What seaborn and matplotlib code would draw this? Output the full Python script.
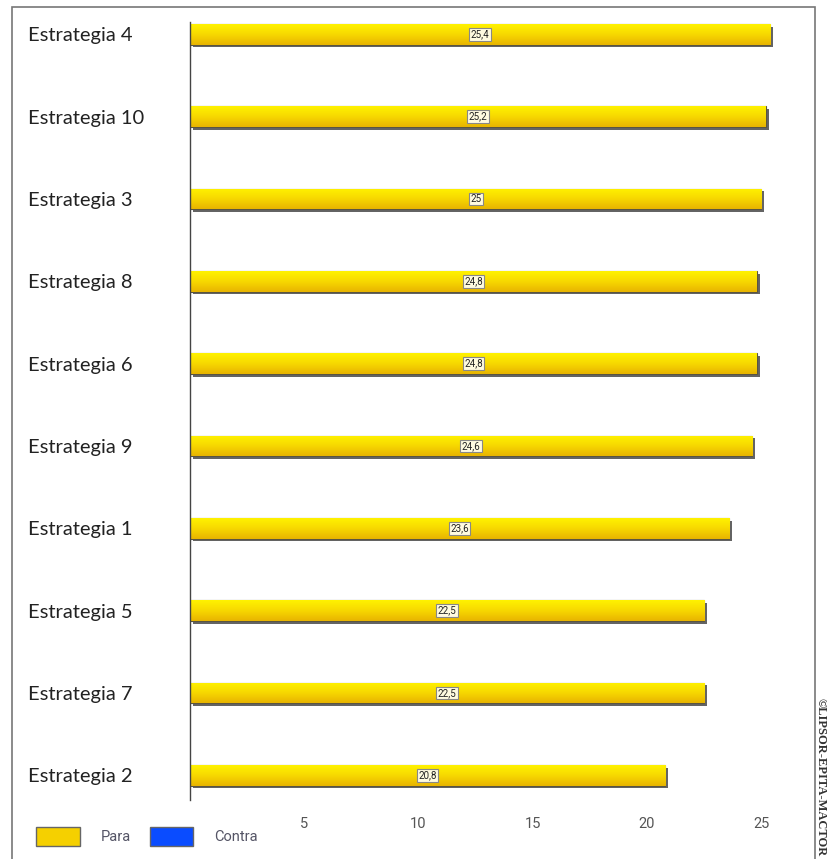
import numpy as np
import pandas as pd
import seaborn as sns
import matplotlib.pyplot as plt
import matplotlib.patheffects as pe
from matplotlib.patches import Patch, Rectangle

# data (top to bottom)
strategies = ["Estrategia 4", "Estrategia 10", "Estrategia 3", "Estrategia 8", "Estrategia 6",
              "Estrategia 9", "Estrategia 1", "Estrategia 5", "Estrategia 7", "Estrategia 2"]
para = [25.4, 25.2, 25.0, 24.8, 24.8, 24.6, 23.6, 22.5, 22.5, 20.8]
series = ["Para", "Contra"]
xticks = [5, 10, 15, 20, 25]

df = pd.DataFrame({"Estrategia": strategies, "Para": para})

sns.set_style("white")
plt.rcParams["font.family"] = ["Lato", "DejaVu Sans"]
narrow = ["Liberation Sans Narrow", "Roboto", "DejaVu Sans"]

fig = plt.figure(figsize=(8.27, 8.59), dpi=100)
ax = fig.add_axes([190 / 827, 1 - 800 / 859, 617 / 827, (800 - 22) / 859])

sns.barplot(data=df, y="Estrategia", x="Para", orient="h", width=0.25,
            color="#f5d000", edgecolor="#5a5540", linewidth=0.8, ax=ax, zorder=2)

# gradient fill + shadow on each bar
grad = np.linspace(0, 1, 64).reshape(-1, 1)
cmap = sns.blend_palette(["#fff200", "#f7d800", "#e8b400"], as_cmap=True)
for p in ax.patches:
    p.set_path_effects([pe.SimplePatchShadow(offset=(2, -2), shadow_rgbFace="#222222", alpha=0.7),
                        pe.Normal()])
    bb = p.get_bbox()
    im = ax.imshow(grad, cmap=cmap, aspect="auto", zorder=2.5,
                   extent=(bb.x0, bb.x1, bb.y1, bb.y0))
    im.set_clip_path(p)

# value boxes in the middle of each bar
for i, v in enumerate(para):
    txt = f"{v:g}".replace(".", ",")
    ax.text(v / 2, i, txt, ha="center", va="center", fontsize=7, color="#222222",
            family=narrow, zorder=4,
            bbox=dict(boxstyle="square,pad=0.15", facecolor="#fffbe0", edgecolor="#888888", linewidth=0.8))

ax.set_xlim(0, 27)
ax.set_ylim(9.3, -0.15)
ax.set_xticks(xticks)
ax.set_xticklabels([str(t) for t in xticks], fontsize=10.5, color="#555555", family=narrow)
ax.tick_params(axis="x", length=0, pad=12)
ax.tick_params(axis="y", length=0, pad=117)
for lab in ax.get_yticklabels():
    lab.set_horizontalalignment("left")
    lab.set_fontsize(14.5)
    lab.set_color("#222222")
ax.set_xlabel("")
ax.set_ylabel("")
for s in ["top", "right", "bottom"]:
    ax.spines[s].set_visible(False)
ax.spines["left"].set_color("#444444")
ax.spines["left"].set_linewidth(1)

# legend
handles = [Patch(facecolor="#f5d000", edgecolor="#666666", label=series[0]),
           Patch(facecolor="#0a4cff", edgecolor="#666666", label=series[1])]
fig.legend(handles=handles, loc="lower left", bbox_to_anchor=(0.028, 0.0), ncol=2, frameon=False,
           handlelength=3.0, handleheight=1.6, columnspacing=1.3, handletextpad=1.4,
           labelcolor="#555566", prop={"family": narrow, "size": 10.5})

# frame and watermark
fig.patches.append(Rectangle((12 / 827, -0.01), (815 - 12) / 827, 1.01 - 7 / 859,
                             transform=fig.transFigure, fill=False, edgecolor="#777777", linewidth=1.2))
fig.text(821 / 827, 1 - 698 / 859, "©LIPSOR-EPITA-MACTOR", rotation=270, ha="center", va="top",
         fontsize=9, fontweight="bold", color="#333333", family=["Liberation Serif", "DejaVu Serif"])

fig.savefig("out.png", dpi=100)
